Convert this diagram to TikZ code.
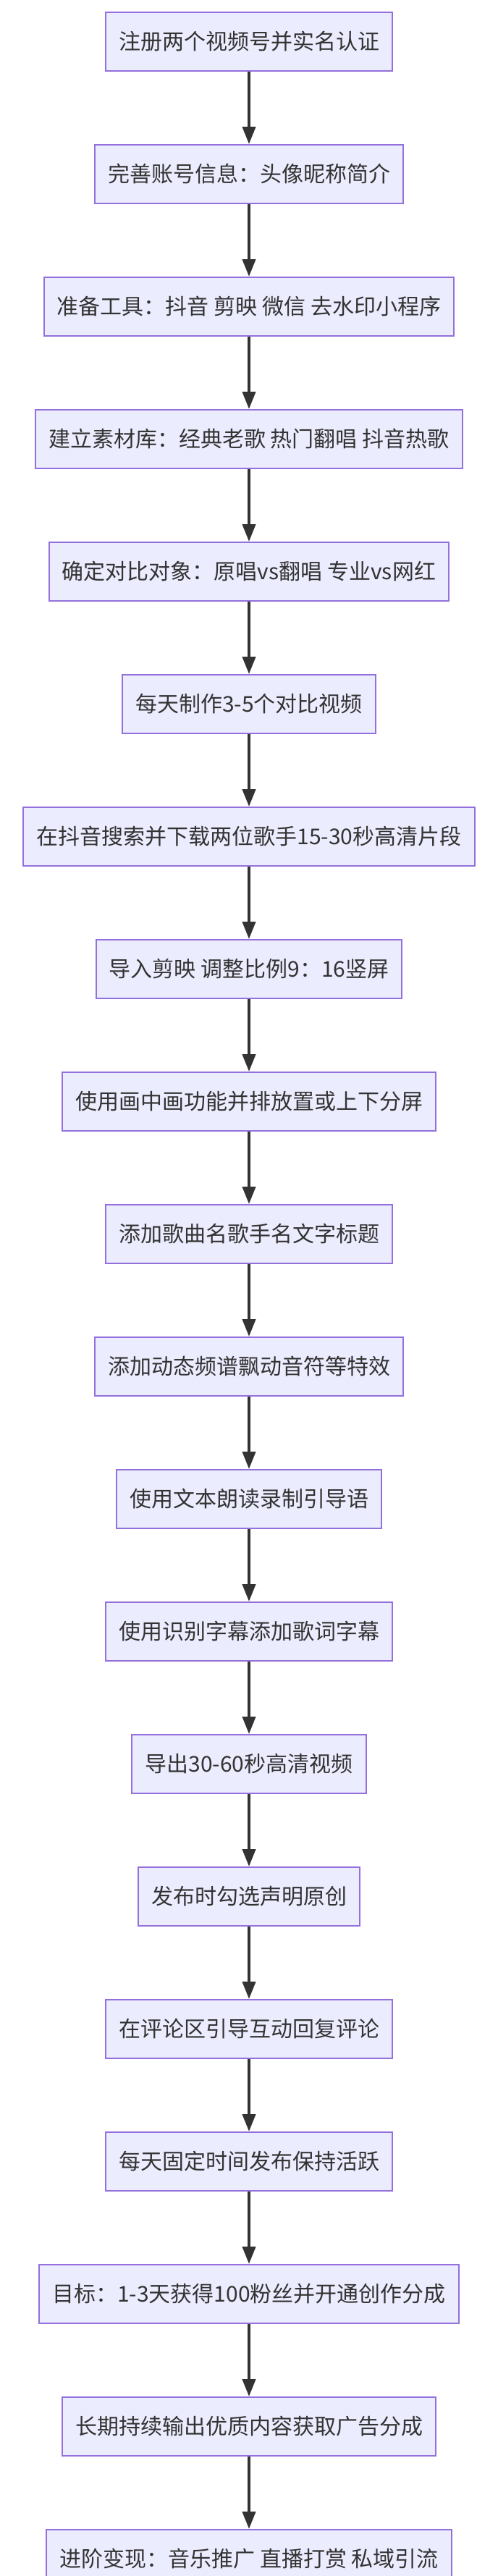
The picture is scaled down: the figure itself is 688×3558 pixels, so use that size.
\documentclass[tikz,border=0pt]{standalone}
\usepackage{fontspec}
\setmainfont{Noto Sans CJK SC}
\usetikzlibrary{positioning,arrows.meta}
\definecolor{stepfill}{HTML}{ECECFF}
\definecolor{stepline}{HTML}{9370DB}
\definecolor{flowline}{HTML}{333333}
\begin{document}
\begin{tikzpicture}[%
            x=1pt, y=1pt,
            node distance=100pt,
            stepbox/.style={draw=stepline, fill=stepfill, line width=2pt,
                         inner xsep=18pt, minimum height=81pt,
                         text=flowline, font=\fontsize{30}{36}\selectfont},
            flow/.style={draw=flowline, line width=4pt,
                         -{Triangle[length=24pt, width=18pt]}}
        ]
        \useasboundingbox (0,0) rectangle (688,-3558);
        \node [stepbox, anchor=north] (s1) at (344,-16) {注册两个视频号并实名认证};
        \node [stepbox, below=of s1] (s2) {完善账号信息：头像昵称简介};
        \node [stepbox, below=of s2] (s3) {准备工具：抖音 剪映 微信 去水印小程序};
        \node [stepbox, below=of s3] (s4) {建立素材库：经典老歌 热门翻唱 抖音热歌};
        \node [stepbox, below=of s4] (s5) {确定对比对象：原唱vs翻唱 专业vs网红};
        \node [stepbox, below=of s5] (s6) {每天制作3-5个对比视频};
        \node [stepbox, below=of s6] (s7) {在抖音搜索并下载两位歌手15-30秒高清片段};
        \node [stepbox, below=of s7] (s8) {导入剪映 调整比例9：16竖屏};
        \node [stepbox, below=of s8] (s9) {使用画中画功能并排放置或上下分屏};
        \node [stepbox, below=of s9] (s10) {添加歌曲名歌手名文字标题};
        \node [stepbox, below=of s10] (s11) {添加动态频谱飘动音符等特效};
        \node [stepbox, below=of s11] (s12) {使用文本朗读录制引导语};
        \node [stepbox, below=of s12] (s13) {使用识别字幕添加歌词字幕};
        \node [stepbox, below=of s13] (s14) {导出30-60秒高清视频};
        \node [stepbox, below=of s14] (s15) {发布时勾选声明原创};
        \node [stepbox, below=of s15] (s16) {在评论区引导互动回复评论};
        \node [stepbox, below=of s16] (s17) {每天固定时间发布保持活跃};
        \node [stepbox, below=of s17] (s18) {目标：1-3天获得100粉丝并开通创作分成};
        \node [stepbox, below=of s18] (s19) {长期持续输出优质内容获取广告分成};
        \node [stepbox, below=of s19] (s20) {进阶变现：音乐推广 直播打赏 私域引流};
        \foreach \i [evaluate=\i as \j using int(\i+1)] in {1,...,19}
            \draw [flow] (s\i) -- (s\j);
    \end{tikzpicture}
\end{document}
